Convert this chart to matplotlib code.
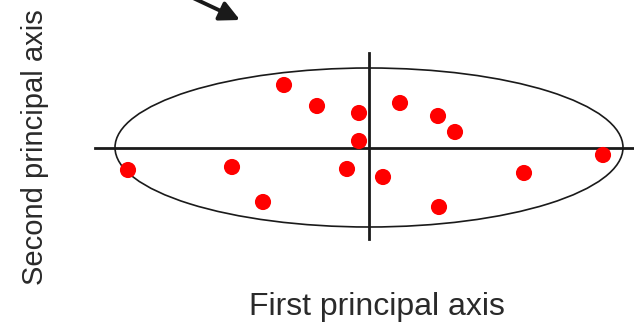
import matplotlib
matplotlib.use("Agg")
import matplotlib.pyplot as plt
from matplotlib.patches import Ellipse

# Scores on the principal axes
pc1 = [-1.70, -1.04, -0.20, 0.62, 1.38, 1.72, -0.20, 4.68, -4.82, -2.74, -2.12, -0.44, 0.28, 1.40, 3.10]
pc2 = [1.26, 0.84, 0.70, 0.90, 0.64, 0.32, 0.14, -0.14, -0.44, -0.38, -1.08, -0.42, -0.58, -1.18, -0.50]
xlabel = "First principal axis"
ylabel = "Second principal axis"

fam = ['Liberation Sans', 'DejaVu Sans']
plt.rcParams['font.family'] = fam

fig = plt.figure(figsize=(6.34, 3.28), dpi=100)
ax = fig.add_axes([0, 0, 1, 1])
ax.set_xlim(-7.38, 5.30)
ax.set_ylim(-3.6, 2.96)
ax.axis("off")

# Principal axes
ax.plot([-5.48, 5.35], [0, 0], color="#1a1a1a", lw=2.0, zorder=2)
ax.plot([0, 0], [-1.82, 1.9], color="#1a1a1a", lw=2.0, zorder=2)

# Ellipse
ax.add_patch(Ellipse((0, 0.01), 10.16, 3.18, fill=False, edgecolor="#1a1a1a", lw=1.2, zorder=1))

# Points
ax.scatter(pc1, pc2, s=135, color="#ff0000", edgecolors="none", zorder=3)

# Arrow
ax.annotate("", xy=(-2.58, 2.56), xytext=(-3.56, 3.02),
            arrowprops=dict(arrowstyle="-|>,head_length=1.2,head_width=0.6",
                            color="#1a1a1a", lw=2.8, shrinkA=0, shrinkB=0))

fig.text(377/634, 1 - 315/328, xlabel, ha="center", va="baseline", fontsize=23,
         color="#2a2a2a", family=fam)
fig.text(43/634, 1 - 147.5/328, ylabel, ha="center", va="baseline", rotation=90,
         rotation_mode="anchor", fontsize=21, color="#2a2a2a", family=fam)

fig.savefig("out.png", dpi=100)
